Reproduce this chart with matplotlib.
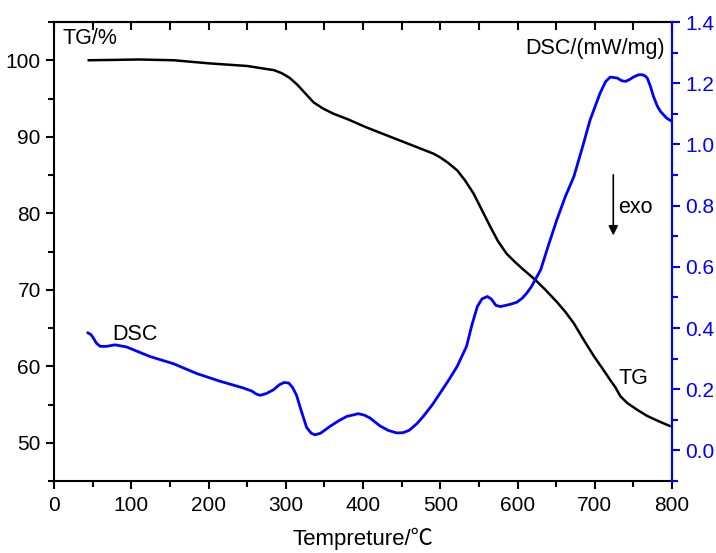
import matplotlib
matplotlib.use("Agg")
import matplotlib.pyplot as plt
from matplotlib.ticker import MultipleLocator

plt.rcParams['font.family'] = ['Liberation Sans', 'Noto Sans CJK SC', 'DejaVu Sans']

# TG curve (%)
tg_temp = [45, 80, 110, 155, 200, 250, 285, 295, 305, 315, 325, 336, 348, 362, 380,
           405, 448, 491, 500, 510, 522, 532, 543, 554, 565, 575, 586, 597, 608,
           623, 637, 651, 662, 673, 686, 699, 710, 720, 727, 733, 742, 755, 768,
           783, 797]
tg_val = [100.0, 100.05, 100.1, 100.0, 99.6, 99.25, 98.7, 98.3, 97.7, 96.8, 95.7,
          94.5, 93.7, 93.0, 92.3, 91.2, 89.5, 87.8, 87.3, 86.6, 85.6, 84.3, 82.6,
          80.4, 78.2, 76.3, 74.7, 73.6, 72.6, 71.3, 69.9, 68.4, 67.1, 65.6, 63.4,
          61.3, 59.7, 58.2, 57.2, 56.1, 55.2, 54.3, 53.5, 52.8, 52.2]

# DSC curve (mW/mg)
dsc_temp = [44, 48, 51, 55, 60, 68, 79, 94, 124, 155, 185, 215, 245, 256, 262, 267,
            275, 284, 292, 298, 304, 309, 314, 320, 327, 333, 338, 345, 357, 368,
            379, 394, 402, 409, 422, 433, 444, 452, 460, 470, 478, 490, 500, 511,
            522, 534, 541, 548, 554, 561, 566, 572, 578, 590, 599, 606, 612, 618,
            623, 630, 640, 651, 662, 673, 684, 694, 707, 714, 720, 729, 735, 740,
            745, 750, 756, 761, 765, 768, 772, 776, 781, 785, 793, 800]
dsc_val = [0.384, 0.378, 0.367, 0.35, 0.34, 0.34, 0.345, 0.338, 0.307, 0.283, 0.251,
           0.226, 0.204, 0.194, 0.184, 0.18, 0.186, 0.198, 0.215, 0.222, 0.22, 0.205,
           0.18, 0.13, 0.075, 0.056, 0.051, 0.056, 0.078, 0.096, 0.111, 0.12, 0.115,
           0.106, 0.08, 0.065, 0.057, 0.058, 0.066, 0.088, 0.111, 0.15, 0.188, 0.23,
           0.275, 0.34, 0.41, 0.47, 0.495, 0.503, 0.495, 0.474, 0.47, 0.477, 0.484,
           0.497, 0.514, 0.535, 0.558, 0.59, 0.67, 0.754, 0.83, 0.895, 0.99, 1.08,
           1.168, 1.205, 1.22, 1.217, 1.208, 1.206, 1.212, 1.22, 1.227, 1.228, 1.224,
           1.217, 1.19, 1.157, 1.125, 1.108, 1.086, 1.075]

x_ticks = [0, 100, 200, 300, 400, 500, 600, 700, 800]
tg_ticks = [50, 60, 70, 80, 90, 100]
dsc_ticks = [0.0, 0.2, 0.4, 0.6, 0.8, 1.0, 1.2, 1.4]

W, H = 716, 553
fig = plt.figure(figsize=(W / 100, H / 100), dpi=100)
ax = fig.add_axes([54 / W, 1 - 481 / H, (672 - 54) / W, (481 - 22) / H])
ax2 = ax.twinx()

ax.plot(tg_temp, tg_val, color='black', lw=1.8, solid_joinstyle='round')
ax2.plot(dsc_temp, dsc_val, color='#0000ff', lw=2.0, solid_joinstyle='round')

ax.set_xlim(0, 800)
ax.set_ylim(45, 105)
ax2.set_ylim(-0.1, 1.4)

ax.set_xticks(x_ticks)
ax.xaxis.set_minor_locator(MultipleLocator(50))
ax.set_yticks(tg_ticks)
ax.yaxis.set_minor_locator(MultipleLocator(5))
ax2.set_yticks(dsc_ticks)
ax2.set_yticklabels([f"{v:.1f}" for v in dsc_ticks])
ax2.yaxis.set_minor_locator(MultipleLocator(0.1))

for s in ax.spines.values():
    s.set_linewidth(1.5)
for name, s in ax2.spines.items():
    s.set_linewidth(1.5)
ax2.spines['right'].set_color('#0000ff')
ax2.spines['left'].set_visible(False)
ax2.spines['top'].set_visible(False)
ax2.spines['bottom'].set_visible(False)

ax.tick_params(axis='x', which='major', direction='out', length=6, width=1.5,
               labelsize=15, pad=5)
ax.tick_params(axis='x', which='minor', direction='out', length=4, width=1.5)
ax.tick_params(axis='y', which='major', direction='out', length=6, width=1.5,
               labelsize=15, right=False)
ax.tick_params(axis='y', which='minor', direction='out', length=4, width=1.5, right=False)
ax2.tick_params(axis='y', which='major', direction='out', length=6, width=1.5,
                labelsize=15, colors='#0000ff')
ax2.tick_params(axis='y', which='minor', direction='out', length=4, width=1.5,
                colors='#0000ff')

# top ticks inward
axt = ax.secondary_xaxis('top')
axt.set_xticks(x_ticks)
axt.xaxis.set_minor_locator(MultipleLocator(50))
axt.tick_params(axis='x', which='major', direction='in', length=6, width=1.5, labeltop=False)
axt.tick_params(axis='x', which='minor', direction='in', length=6, width=1.5)
axt.spines['top'].set_linewidth(1.5)
ax.tick_params(axis='x', which='both', top=False)

ax.set_xlabel('Tempreture/℃', fontsize=16, labelpad=9)

fs = 15.5
ax.text(0.013, 0.965, 'TG/%', transform=ax.transAxes, fontsize=fs, va='center', ha='left')
ax.text(0.989, 0.943, 'DSC/(mW/mg)', transform=ax.transAxes, fontsize=fs, va='center', ha='right')
ax.text(0.913, 0.595, 'exo', transform=ax.transAxes, fontsize=fs, va='center', ha='left')
ax.text(0.095, 0.320, 'DSC', transform=ax.transAxes, fontsize=fs, va='center', ha='left')
ax.text(0.914, 0.224, 'TG', transform=ax.transAxes, fontsize=fs, va='center', ha='left')
ax.annotate('', xy=(0.905, 0.529), xytext=(0.905, 0.673), xycoords='axes fraction',
            arrowprops=dict(arrowstyle='-|>', color='black', lw=1.2, mutation_scale=14))

fig.savefig('out.png', dpi=100)
